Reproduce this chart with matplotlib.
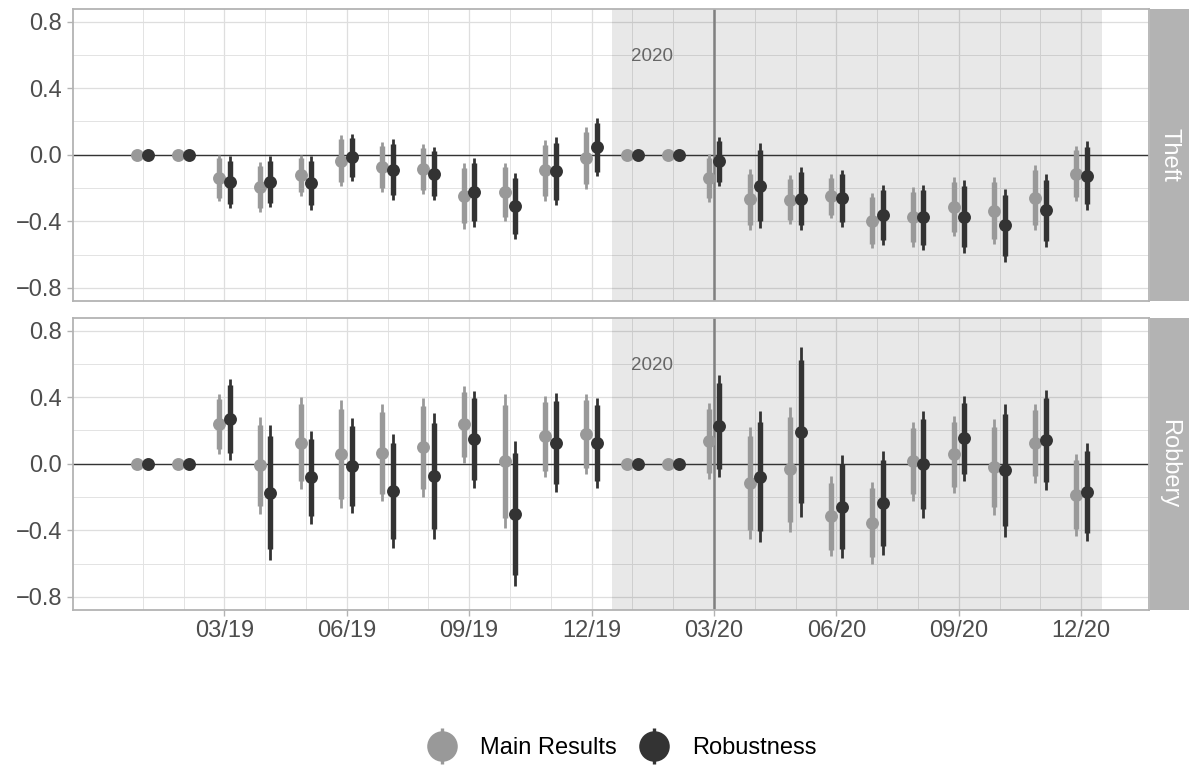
import numpy as np
import matplotlib
matplotlib.use("Agg")
import matplotlib.pyplot as plt
from matplotlib.lines import Line2D
from matplotlib.legend_handler import HandlerTuple

plt.rcParams['font.family'] = ['Liberation Sans', 'DejaVu Sans']

# months on the x axis (Jan 2019 .. Dec 2020)
months = ["01/19", "02/19", "03/19", "04/19", "05/19", "06/19",
          "07/19", "08/19", "09/19", "10/19", "11/19", "12/19",
          "01/20", "02/20", "03/20", "04/20", "05/20", "06/20",
          "07/20", "08/20", "09/20", "10/20", "11/20", "12/20"]
tick_labels = ["03/19", "06/19", "09/19", "12/19", "03/20", "06/20", "09/20", "12/20"]

# point estimates and 95% half widths
theft_main = [0, 0, -0.140, -0.193, -0.123, -0.035, -0.073, -0.085, -0.246, -0.224, -0.093, -0.020,
              0, 0, -0.141, -0.268, -0.270, -0.249, -0.396, -0.375, -0.312, -0.336, -0.257, -0.113]
theft_main_ci = [0, 0, 0.140, 0.149, 0.123, 0.155, 0.149, 0.149, 0.198, 0.176, 0.183, 0.184,
                 0, 0, 0.145, 0.182, 0.146, 0.133, 0.166, 0.181, 0.178, 0.202, 0.197, 0.167]
theft_rob = [0, 0, -0.165, -0.163, -0.170, -0.016, -0.090, -0.113, -0.225, -0.308, -0.099, 0.046,
             0, 0, -0.039, -0.185, -0.265, -0.262, -0.363, -0.377, -0.372, -0.425, -0.335, -0.126]
theft_rob_ci = [0, 0, 0.155, 0.153, 0.160, 0.140, 0.184, 0.161, 0.207, 0.200, 0.205, 0.176,
                0, 0, 0.147, 0.255, 0.189, 0.172, 0.181, 0.195, 0.218, 0.221, 0.221, 0.206]

robbery_main = [0, 0, 0.239, -0.010, 0.126, 0.059, 0.066, 0.099, 0.236, 0.015, 0.164, 0.179,
                0, 0, 0.137, -0.115, -0.032, -0.316, -0.354, 0.015, 0.057, -0.018, 0.122, -0.186]
robbery_main_ci = [0, 0, 0.179, 0.290, 0.276, 0.325, 0.292, 0.299, 0.232, 0.403, 0.246, 0.241,
                   0, 0, 0.231, 0.337, 0.376, 0.240, 0.246, 0.237, 0.231, 0.288, 0.236, 0.246]
robbery_rob = [0, 0, 0.268, -0.173, -0.082, -0.013, -0.164, -0.074, 0.148, -0.301, 0.127, 0.123,
               0, 0, 0.229, -0.077, 0.193, -0.257, -0.236, -0.003, 0.153, -0.038, 0.145, -0.170]
robbery_rob_ci = [0, 0, 0.244, 0.403, 0.278, 0.285, 0.344, 0.378, 0.292, 0.435, 0.299, 0.271,
                  0, 0, 0.307, 0.393, 0.511, 0.307, 0.310, 0.323, 0.255, 0.400, 0.301, 0.292]

series_names = ["Main Results", "Robustness"]
series_colors = ["#999999", "#333333"]

W, H = 1190, 767


def box(left, top, right, bottom):
    return [left / W, 1 - bottom / H, (right - left) / W, (bottom - top) / H]


def draw_panel(ax, data):
    x = np.arange(len(months))
    ax.set_xlim(-1.716, 24.66)
    ax.set_ylim(-0.876, 0.876)
    ax.set_xticks([months.index(t) for t in tick_labels])
    ax.set_xticks(x, minor=True)
    ax.set_yticks([-0.8, -0.4, 0.0, 0.4, 0.8])
    ax.set_yticks([-0.6, -0.2, 0.2, 0.6], minor=True)
    ax.set_yticklabels(["\u22120.8", "\u22120.4", "0.0", "0.4", "0.8"])
    ax.grid(which='major', color='#DEDEDE', lw=0.9)
    ax.grid(which='minor', color='#E3E3E3', lw=0.7)
    ax.set_axisbelow(True)
    for s in ax.spines.values():
        s.set_color('#B3B3B3')
        s.set_linewidth(1.3)
    ax.tick_params(which='major', length=4, width=1, color='#B3B3B3',
                   labelcolor='#4D4D4D', labelsize=17, pad=3.5)
    ax.tick_params(which='minor', length=0)

    # 2020 shading, reference lines and label
    ax.axvspan(11.5, 23.5, color='black', alpha=0.09, lw=0, zorder=1.5)
    ax.axhline(0, color='#333333', lw=1.0, zorder=2)
    ax.axvline(months.index("03/20"), color='#808080', lw=1.8, zorder=2)
    ax.text(months.index("01/20") - 0.03, 0.59, "2020", ha='left', va='center',
            fontsize=13.5, color='#666666', zorder=2)

    for k, (est, ci) in enumerate(data):
        est = np.array(est)
        ci = np.array(ci)
        xs = x + (-0.13 if k == 0 else 0.13)
        c = series_colors[k]
        z = 3 + k
        inner = ci * 1.645 / 1.96
        ax.vlines(xs, est - ci, est + ci, color=c, lw=2.0, zorder=z)
        ax.vlines(xs, est - inner, est + inner, color=c, lw=3.9, zorder=z + 0.1)
        ax.plot(xs, est, 'o', ms=9.3, mew=0, color=c, zorder=z + 0.2)


def draw_strip(rect, label):
    sax = fig.add_axes(rect)
    sax.set_facecolor('#B3B3B3')
    sax.set_xticks([])
    sax.set_yticks([])
    for s in sax.spines.values():
        s.set_visible(False)
    sax.text(0.5, 0.5, label, rotation=-90, color='white', fontsize=17,
             ha='center', va='center', transform=sax.transAxes)


fig = plt.figure(figsize=(11.9, 7.67), dpi=100)

ax1 = fig.add_axes(box(72.7, 9, 1149, 300.5))
draw_panel(ax1, [(theft_main, theft_main_ci), (theft_rob, theft_rob_ci)])
ax1.tick_params(axis='x', which='both', length=0, labelbottom=False)
draw_strip(box(1149.5, 9, 1188.5, 300.5), "Theft")

ax2 = fig.add_axes(box(72.7, 318, 1149, 609.5))
draw_panel(ax2, [(robbery_main, robbery_main_ci), (robbery_rob, robbery_rob_ci)])
ax2.set_xticklabels(tick_labels)
draw_strip(box(1149.5, 318, 1188.5, 609.5), "Robbery")

handles = []
for c in series_colors:
    handles.append((Line2D([], [], ls='none', marker='|', ms=26, mew=2.4, color=c),
                    Line2D([], [], ls='none', marker='o', ms=22, mew=0, color=c)))
fig.legend(handles, series_names, loc='center', bbox_to_anchor=(622 / W, 1 - 748 / H),
           ncol=2, frameon=False, fontsize=17, handlelength=1.2, handletextpad=1.0,
           columnspacing=1.0, numpoints=1,
           handler_map={tuple: HandlerTuple(ndivide=1)})

fig.savefig("out.png", dpi=100)
